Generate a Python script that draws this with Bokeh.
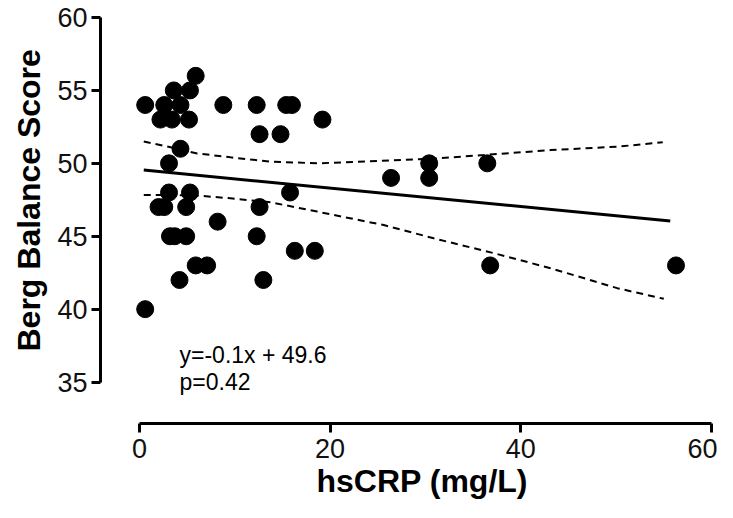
from bokeh.plotting import figure
from bokeh.models import Range1d, FixedTicker, Label, Title
from bokeh.embed import file_html
from bokeh.resources import INLINE

# ---- data ----
hscrp = [0.6, 2.6, 4.3, 8.8, 12.3, 15.4, 16.0,
         3.6, 5.3,
         5.9,
         2.2, 3.4, 5.2, 19.2,
         12.6, 14.8,
         4.3,
         3.1, 30.4, 36.5,
         26.4, 30.4,
         3.1, 5.3, 15.8,
         2.0, 2.6, 4.9, 12.6,
         8.2,
         3.2, 3.7, 4.9, 12.3,
         16.3, 18.4,
         5.9, 7.1, 36.8, 56.3,
         4.2, 13.0,
         0.6]
berg = [54, 54, 54, 54, 54, 54, 54,
        55, 55,
        56,
        53, 53, 53, 53,
        52, 52,
        51,
        50, 50, 50,
        49, 49,
        48, 48, 48,
        47, 47, 47, 47,
        46,
        45, 45, 45, 45,
        44, 44,
        43, 43, 43, 43,
        42, 42,
        40]

fit_x = [0.45, 55.7]
fit_y = [49.54, 46.05]

band_x = [0.45, 2.55, 6.05, 9.55, 13.75, 18.65, 24.94, 31.24, 36.13, 43.13, 50.13, 54.91]
band_upper = [51.49, 51.21, 50.68, 50.41, 50.12, 50.00, 50.16, 50.34, 50.57, 50.91, 51.14, 51.44]
band_lx = [0.45, 3.25, 6.05, 9.55, 13.75, 18.65, 25.63, 30.88, 37.18, 43.13, 50.13, 55.02]
band_lower = [47.83, 47.83, 47.79, 47.60, 47.33, 46.69, 45.77, 44.86, 43.84, 42.81, 41.44, 40.71]

x_ticks = [0, 20, 40, 60]
y_ticks = [35, 40, 45, 50, 55, 60]

FONT = "Liberation Sans"

p = figure(width=717, height=502,
           x_range=Range1d(-4.09, 60.55), y_range=Range1d(32.16, 60.48),
           output_backend="svg", toolbar_location=None,
           min_border_left=100, min_border_top=10, min_border_right=1, min_border_bottom=79)
p.outline_line_color = None
p.grid.visible = False
p.background_fill_color = "white"
p.border_fill_color = "white"

p.xaxis.ticker = FixedTicker(ticks=x_ticks)
p.yaxis.ticker = FixedTicker(ticks=y_ticks)
p.xaxis.bounds = (0, 60)
p.yaxis.bounds = (35, 60)
for ax in (p.xaxis, p.yaxis):
    ax.axis_line_width = 3
    ax.axis_line_color = "black"
    ax.major_tick_line_width = 3
    ax.major_tick_line_color = "black"
    ax.major_tick_out = 9
    ax.major_tick_in = 0
    ax.minor_tick_line_color = None
    ax.major_label_text_font = FONT
    ax.major_label_text_font_size = "27px"
    ax.major_label_text_color = "#111111"
p.xaxis.major_label_standoff = 6
p.yaxis.major_label_standoff = 4

ytitle = Title(text="Berg Balance Score", align="left", offset=72, standoff=12,
               vertical_align="top", text_font=FONT, text_font_size="32px",
               text_font_style="bold", text_color="black")
p.add_layout(ytitle, "left")
xtitle = Title(text="hsCRP (mg/L)", align="left", offset=216, standoff=0,
               vertical_align="bottom", text_font=FONT, text_font_size="32px",
               text_font_style="bold", text_color="black")
p.add_layout(xtitle, "below")

p.line(band_x, band_upper, line_color="black", line_width=2, line_dash="7 5")
p.line(band_lx, band_lower, line_color="black", line_width=2, line_dash="7 5")
p.line(fit_x, fit_y, line_color="black", line_width=3)
p.scatter(hscrp, berg, size=17, fill_color="black", line_color="black")

p.add_layout(Label(x=4.2, y=36.85, text="y=-0.1x + 49.6", text_font=FONT,
                   text_font_size="23px", text_color="black", text_baseline="alphabetic"))
p.add_layout(Label(x=4.2, y=35.0, text="p=0.42", text_font=FONT,
                   text_font_size="23px", text_color="black", text_baseline="alphabetic"))

open("out.html", "w").write(file_html(p, INLINE))
